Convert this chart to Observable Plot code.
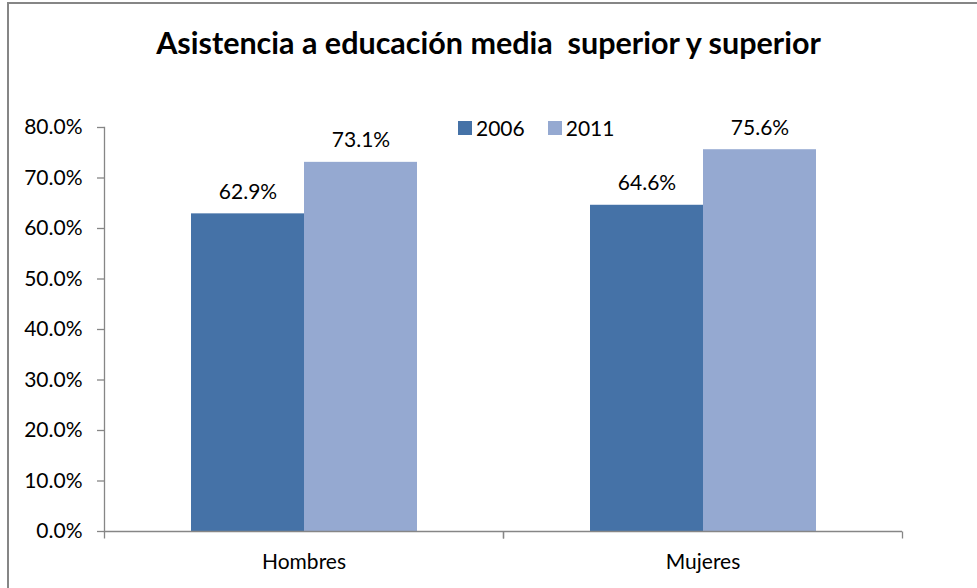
<!DOCTYPE html>
<html>
<head>
<meta charset="utf-8">
<script src="https://cdn.jsdelivr.net/npm/d3@7"></script>
<script src="https://cdn.jsdelivr.net/npm/@observablehq/plot@0.6"></script>
<style>
  html, body { margin: 0; padding: 0; background: #fff; overflow: hidden; }
  #wrap { position: relative; width: 977px; height: 588px; overflow: hidden; font-family: Lato, "Open Sans", sans-serif; }
  #border { position: absolute; left: 7px; top: 2px; width: 1100px; height: 700px; border: 2px solid #868686; box-sizing: border-box; }
  #title { position: absolute; left: 0; top: 27px; width: 977px; text-align: center; font-weight: bold; font-size: 30.5px; color: #000; line-height: 1; white-space: pre; }
  #legend { position: absolute; left: 458px; top: 117px; display: flex; align-items: center; font-size: 21px; color: #000; line-height: 1; }
  #legend .item { display: flex; align-items: center; margin-right: 23px; }
  #legend .sw { width: 14px; height: 14px; margin-right: 4px; }
  #chart { position: absolute; left: 0; top: 0; }
</style>
</head>
<body>
<div id="wrap">
  <div id="border"></div>
  <div id="chart"></div>
  <div id="title"></div>
  <div id="legend"></div>
</div>
<script>
const titleText = "Asistencia a educación media  superior y superior";
const categories = ["Hombres", "Mujeres"];
const years = ["2006", "2011"];
const values2006 = [0.629, 0.646];
const values2011 = [0.731, 0.756];
const yTicks = [0, 0.1, 0.2, 0.3, 0.4, 0.5, 0.6, 0.7, 0.8];
const colors = ["#4572A7", "#95A9D1"];

const data = categories.flatMap((c, i) => [
  {cat: c, year: years[0], value: values2006[i]},
  {cat: c, year: years[1], value: values2011[i]}
]);

const fmt = d3.format(".1%");
const axisGray = "#868686";
const tickSymbol = {draw(ctx) { ctx.moveTo(0, 0); ctx.lineTo(0, 7); }};

document.getElementById("title").textContent = titleText;
const leg = document.getElementById("legend");
years.forEach((y, i) => {
  const it = document.createElement("div");
  it.className = "item";
  const sw = document.createElement("div");
  sw.className = "sw";
  sw.style.background = colors[i];
  const tx = document.createElement("span");
  tx.textContent = y;
  it.appendChild(sw); it.appendChild(tx);
  leg.appendChild(it);
});

const chart = Plot.plot({
  width: 977,
  height: 588,
  marginLeft: 104,
  marginRight: 75,
  marginTop: 127,
  marginBottom: 57,
  style: {fontFamily: "Lato, 'Open Sans', sans-serif", fontSize: "21px", color: "#000", background: "transparent"},
  fx: {domain: categories, padding: 0, label: null},
  x: {domain: years, paddingInner: 0, paddingOuter: 0.754, axis: null},
  y: {domain: [0, 0.8], label: null},
  color: {domain: years, range: colors},
  marks: [
    Plot.barY(data, {fx: "cat", x: "year", y: "value", fill: "year"}),
    Plot.text(data, {fx: "cat", x: "year", y: "value", text: d => fmt(d.value), lineAnchor: "bottom", dy: -15, fill: "#000"}),
    Plot.ruleY([0], {stroke: axisGray, strokeWidth: 1.3}),
    Plot.frame({anchor: "left", facetAnchor: "left", stroke: axisGray, strokeWidth: 1.3}),
    Plot.dot([0], {frameAnchor: "bottom-left", symbol: tickSymbol, stroke: axisGray, strokeWidth: 1.3}),
    Plot.dot([0], {frameAnchor: "bottom-right", symbol: tickSymbol, stroke: axisGray, strokeWidth: 1.3}),
    Plot.axisY({ticks: yTicks, tickFormat: ".1%", tickSize: 7, tickPadding: 15, stroke: axisGray, strokeWidth: 1.3, fill: "#000", label: null}),
    Plot.axisFx({anchor: "bottom", tickSize: 0, tickPadding: 23, label: null, fill: "#000"})
  ]
});
document.getElementById("chart").appendChild(chart);
</script>
</body>
</html>
